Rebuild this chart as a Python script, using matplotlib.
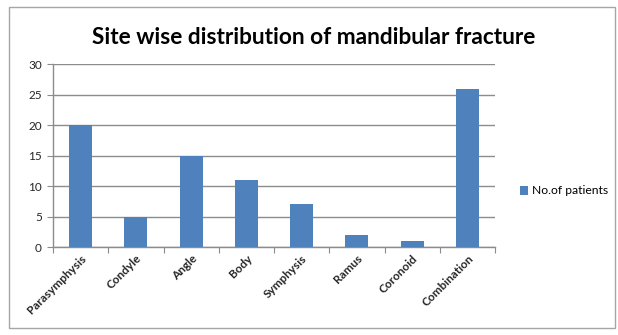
import matplotlib.pyplot as plt
from matplotlib.patches import Rectangle

categories = ["Parasymphysis", "Condyle", "Angle", "Body", "Symphysis",
              "Ramus", "Coronoid", "Combination"]
patients = [20, 5, 15, 11, 7, 2, 1, 26]
y_ticks = [0, 5, 10, 15, 20, 25, 30]

plt.rcParams["font.family"] = ["Lato", "DejaVu Sans"]

bar_color = "#4F81BD"
grid_color = "#8C8C8C"

fig = plt.figure(figsize=(6.18, 3.35), dpi=100)
fig.patches.append(Rectangle((9 / 618, 1 - 328 / 335), 606 / 618, 321 / 335,
                             transform=fig.transFigure, fill=False,
                             edgecolor="#A6A6A6", linewidth=1.0))

ax = fig.add_axes([53 / 618, 1 - 247 / 335, 442 / 618, 182.7 / 335])

x = range(len(categories))
ax.bar(x, patients, width=0.42, color=bar_color, label="No.of patients", zorder=3)

ax.set_xlim(-0.5, len(categories) - 0.5)
ax.set_ylim(0, 30)
ax.set_yticks(y_ticks)
ax.yaxis.grid(True, color=grid_color, linewidth=1.0, zorder=0)
ax.set_axisbelow(True)

ax.set_xticks([i - 0.5 for i in range(len(categories) + 1)])
ax.set_xticklabels([])
ax.set_xticks(list(x), minor=True)
ax.set_xticklabels(categories, minor=True, rotation=45, ha="right", va="top",
                   rotation_mode="anchor", fontsize=8.5, fontweight="bold",
                   color="#262626")
ax.tick_params(axis="x", which="minor", length=0, pad=4)
ax.tick_params(axis="x", which="major", length=4, color=grid_color)
ax.tick_params(axis="y", length=4, color=grid_color, labelsize=8.5,
               labelcolor="#262626", pad=4)

for side in ["top", "right"]:
    ax.spines[side].set_visible(False)
for side in ["left", "bottom"]:
    ax.spines[side].set_color(grid_color)
    ax.spines[side].set_linewidth(1.0)

fig.text(314 / 618, 1 - 37 / 335, "Site wise distribution of mandibular fracture",
         ha="center", va="center", fontsize=16.3, fontweight="bold")

fig.legend(loc="center left", bbox_to_anchor=(515 / 618, 1 - 191 / 335),
           frameon=False, fontsize=8.7, handlelength=0.7, handleheight=0.7,
           handletextpad=0.3, borderaxespad=0)

fig.savefig("out.png", dpi=100)
